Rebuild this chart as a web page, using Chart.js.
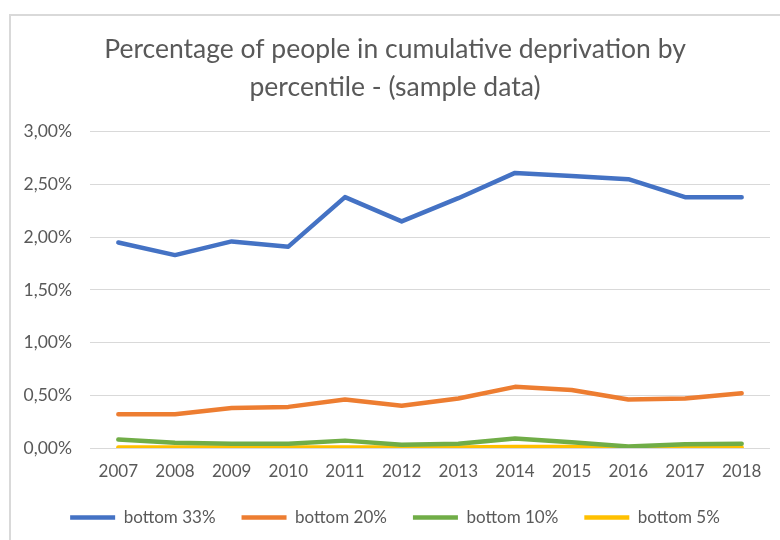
<!DOCTYPE html>
<html>
<head>
<meta charset="utf-8">
<script src="https://cdn.jsdelivr.net/npm/chart.js@4/dist/chart.umd.min.js"></script>
<style>
  html, body { margin: 0; padding: 0; background: #fff; }
  #myChart { display: block; }
</style>
</head>
<body>
<canvas id="myChart" width="780" height="540"></canvas>
<script>
const years = ['2007', '2008', '2009', '2010', '2011', '2012', '2013', '2014', '2015', '2016', '2017', '2018'];
const bottom33 = [1.95, 1.83, 1.96, 1.91, 2.38, 2.15, 2.37, 2.61, 2.58, 2.55, 2.38, 2.38];
const bottom20 = [0.32, 0.32, 0.38, 0.39, 0.46, 0.40, 0.47, 0.58, 0.55, 0.46, 0.47, 0.52];
const bottom10 = [0.08, 0.05, 0.04, 0.04, 0.07, 0.03, 0.04, 0.09, 0.055, 0.015, 0.035, 0.04];
const bottom5 = [0.005, 0.005, 0.005, 0.005, 0.005, 0.005, 0.005, 0.01, 0.01, 0.005, 0.005, 0.005];
const yMin = 0, yMax = 3, yStep = 0.5;

const grey = '#595959';
const fontName = 'Lato, "Open Sans", sans-serif';

// light frame on top and left, like the excel chart object
const frame = {
  id: 'frame',
  beforeDraw(chart) {
    const c = chart.ctx;
    c.save();
    c.strokeStyle = '#d9d9d9';
    c.lineWidth = 2;
    c.beginPath();
    c.moveTo(10, 540);
    c.lineTo(10, 15);
    c.lineTo(780, 15);
    c.stroke();
    c.restore();
  }
};

function line(label, data, color) {
  return {
    label: label,
    data: data,
    borderColor: color,
    backgroundColor: color,
    borderWidth: 4.5,
    pointRadius: 0,
    tension: 0,
    borderCapStyle: 'round',
    borderJoinStyle: 'round'
  };
}

const ctx = document.getElementById('myChart').getContext('2d');
const myChart = new Chart(ctx, {
  type: 'line',
  data: {
    labels: years,
    datasets: [
      line('bottom 33%', bottom33, '#4472C4'),
      line('bottom 20%', bottom20, '#ED7D31'),
      line('bottom 10%', bottom10, '#70AD47'),
      line('bottom 5%', bottom5, '#FFC000')
    ]
  },
  options: {
    responsive: false,
    animation: false,
    layout: { padding: { top: 31, left: 20, right: 10, bottom: 4 } },
    scales: {
      x: {
        offset: true,
        grid: { display: false, drawTicks: false },
        border: { display: false },
        ticks: { color: grey, padding: 13, font: { family: fontName, size: 17 } },
        afterFit(axis) { axis.height = 35; }
      },
      y: {
        min: yMin,
        max: yMax,
        grid: { color: '#d9d9d9', lineWidth: 1, drawTicks: false },
        border: { display: false },
        ticks: {
          stepSize: yStep,
          color: grey,
          padding: 18,
          font: { family: fontName, size: 17.5 },
          callback: v => v.toFixed(2).replace('.', ',') + '%'
        },
        afterFit(axis) { axis.width = 70; }
      }
    },
    plugins: {
      title: {
        display: true,
        text: ['Percentage of people in cumulative deprivation by', 'percentile - (sample data)'],
        color: grey,
        font: { family: fontName, size: 26.5, weight: 'normal', lineHeight: 1.43 },
        padding: { top: 0, bottom: 25 }
      },
      legend: {
        position: 'bottom',
        labels: {
          usePointStyle: true,
          pointStyle: 'line',
          pointStyleWidth: 45,
          color: grey,
          padding: 26,
          font: { family: fontName, size: 17 }
        }
      },
      tooltip: { enabled: false }
    }
  },
  plugins: [frame]
});
</script>
</body>
</html>
